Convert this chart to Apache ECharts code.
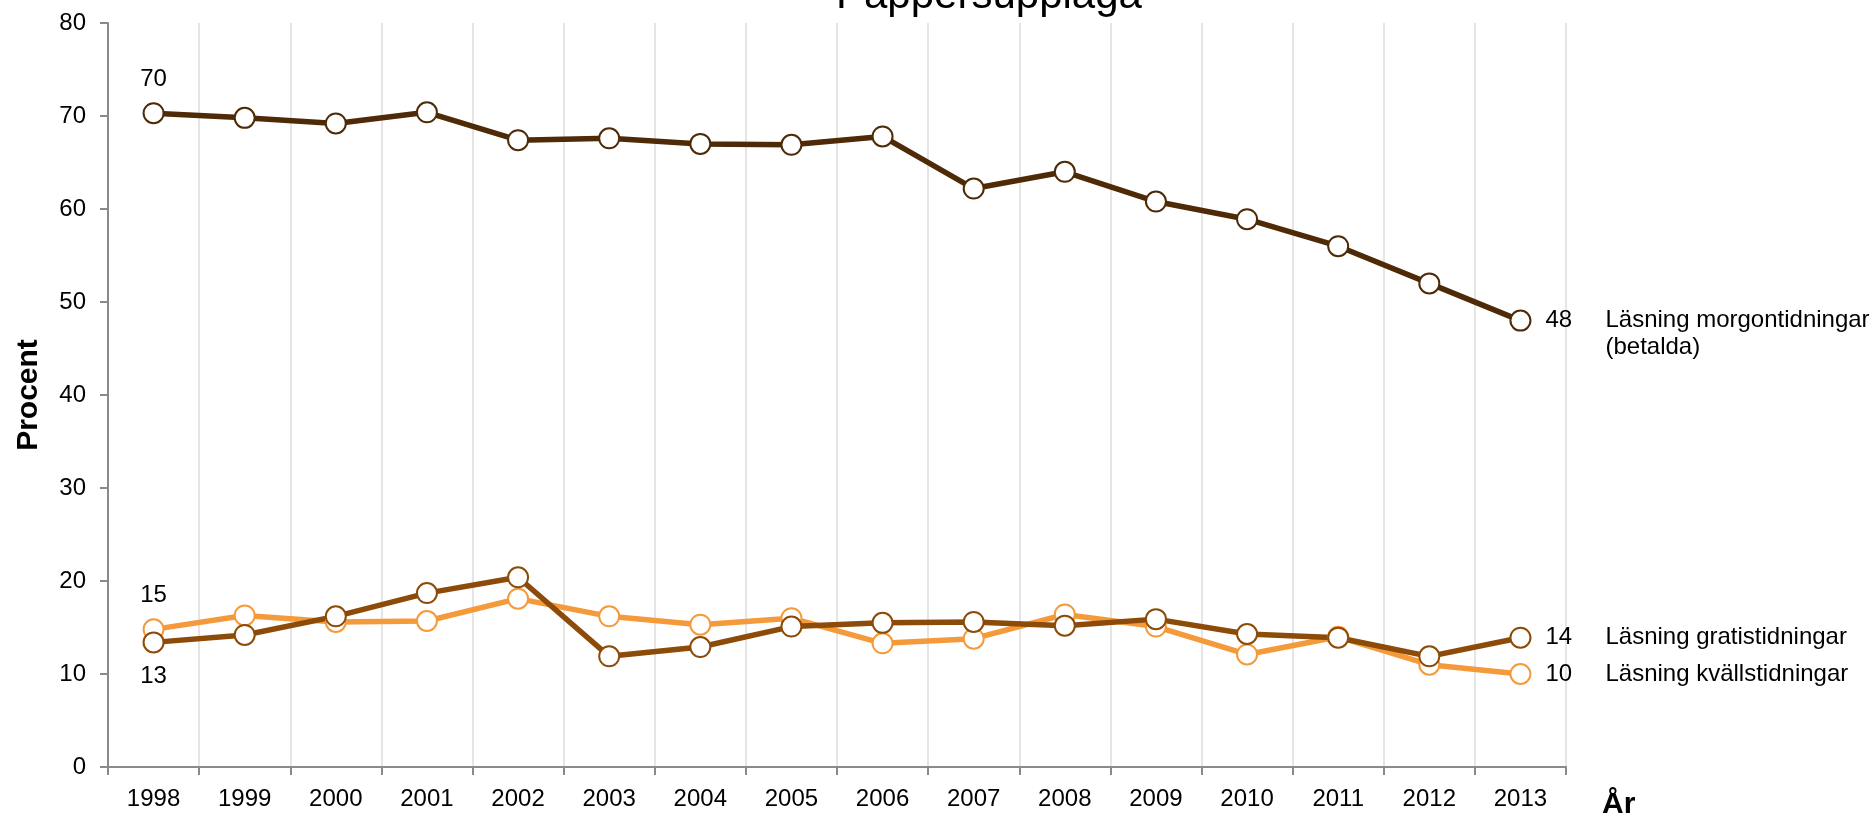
<!DOCTYPE html>
<html>
<head>
<meta charset="utf-8">
<script src="https://cdn.jsdelivr.net/npm/echarts@6/dist/echarts.min.js"></script>
<style>
html,body{margin:0;padding:0;background:#fff;}
#chart{width:1872px;height:820px;}
</style>
</head>
<body>
<div id="chart"></div>
<script>
const years = ['1998','1999','2000','2001','2002','2003','2004','2005','2006','2007','2008','2009','2010','2011','2012','2013'];
const morgon = [70.3,69.8,69.2,70.4,67.4,67.6,67.0,66.9,67.8,62.2,64.0,60.8,58.9,56.0,52.0,48.0];
const gratis = [13.4,14.2,16.2,18.7,20.4,11.9,12.9,15.1,15.5,15.6,15.2,15.9,14.3,13.9,11.9,13.9];
const kvalls = [14.8,16.3,15.6,15.7,18.1,16.2,15.3,16.0,13.3,13.8,16.4,15.1,12.1,14.0,11.0,10.0];
const startLabels = {morgon:'70', gratis:'13', kvalls:'15'};
const endLabels = {morgon:'48', gratis:'14', kvalls:'10'};
const names = {morgon:['Läsning morgontidningar','(betalda)'], gratis:['Läsning gratistidningar'], kvalls:['Läsning kvällstidningar']};
const yTicks = [0,10,20,30,40,50,60,70,80];

const FONT = 'Liberation Sans, Arial, sans-serif';
const colors = {morgon:'#4e2a07', gratis:'#8c4b08', kvalls:'#f59a3b'};

function buildData(key, values, startPos) {
  return values.map((v, i) => {
    const item = {value: v};
    if (i === 0) {
      item.label = {show:true, position:startPos, distance:11, formatter:startLabels[key],
        fontSize:24, fontFamily:FONT, color:'#000'};
    } else if (i === values.length - 1) {
      const n = names[key];
      let fmt = '{v|' + endLabels[key] + '}{n|' + n[0] + '}';
      for (let k = 1; k < n.length; k++) fmt += '\n{v| }{n|' + n[k] + '}';
      item.label = {show:true, position:'right', distance:14, formatter:fmt,
        offset:[0, (n.length - 1) * 13.5],
        rich:{v:{width:60, fontSize:24, fontFamily:FONT, color:'#000', lineHeight:27},
              n:{fontSize:24, fontFamily:FONT, color:'#000', lineHeight:27}}};
    }
    return item;
  });
}

function mkSeries(key, values, startPos) {
  return {
    type:'line', name:key, data:buildData(key, values, startPos),
    symbol:'circle', symbolSize:20, showAllSymbol:true,
    lineStyle:{color:colors[key], width:5.5},
    itemStyle:{color:'#fff', borderColor:colors[key], borderWidth:2},
    emphasis:{disabled:true}, animation:false, z:2
  };
}

const chart = echarts.init(document.getElementById('chart'));
chart.setOption({
  backgroundColor:'#fff',
  animation:false,
  title:{text:'Pappersupplaga', left:831, top:-30,
    textStyle:{fontSize:42, fontWeight:'normal', fontFamily:FONT, color:'#000'}},
  grid:{left:108, right:306, top:23, bottom:53},
  xAxis:{
    type:'category', data:years, boundaryGap:true,
    axisLine:{lineStyle:{color:'#8a8a8a', width:2}},
    axisTick:{show:true, length:8, lineStyle:{color:'#8a8a8a', width:2}, alignWithLabel:false},
    axisLabel:{fontSize:24, fontFamily:FONT, color:'#000', margin:20},
    splitLine:{show:true, lineStyle:{color:'#dcdcdc', width:1.5}}
  },
  yAxis:{
    type:'value', min:0, max:80, interval:10,
    name:'Procent', nameLocation:'middle', nameRotate:90, nameGap:64,
    nameTextStyle:{fontSize:30, fontWeight:'bold', fontFamily:FONT, color:'#000'},
    axisLine:{show:true, lineStyle:{color:'#8a8a8a', width:2}},
    axisTick:{show:true, length:8, lineStyle:{color:'#8a8a8a', width:2}},
    axisLabel:{fontSize:24, fontFamily:FONT, color:'#000', margin:22,
      formatter:(v)=> yTicks.indexOf(v) >= 0 ? String(v) : ''},
    splitLine:{show:false}
  },
  graphic:[{type:'text', left:1602, top:790,
    style:{text:'År', fontSize:30, fontWeight:'bold', fontFamily:FONT, fill:'#000'}}],
  series:[
    mkSeries('kvalls', kvalls, 'top'),
    mkSeries('gratis', gratis, 'bottom'),
    mkSeries('morgon', morgon, 'top')
  ]
});
</script>
</body>
</html>
